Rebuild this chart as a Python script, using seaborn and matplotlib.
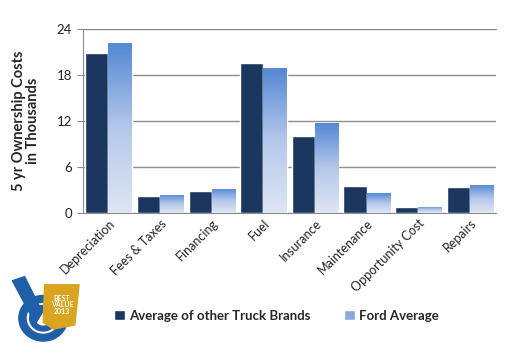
import numpy as np
import pandas as pd
import matplotlib
matplotlib.use("Agg")
import matplotlib.pyplot as plt
from matplotlib.patches import Patch, Polygon, Wedge
from matplotlib.colors import LinearSegmentedColormap
import seaborn as sns

categories = ["Depreciation", "Fees & Taxes", "Financing", "Fuel", "Insurance",
              "Maintenance", "Opportunity Cost", "Repairs"]
other_brands = [20.9, 2.2, 2.9, 19.6, 10.0, 3.5, 0.8, 3.4]
ford = [22.2, 2.4, 3.2, 18.9, 11.7, 2.6, 0.8, 3.7]
series_names = ["Average of other Truck Brands", "Ford Average"]

df = pd.DataFrame({
    "category": categories * 2,
    "value": other_brands + ford,
    "series": [series_names[0]] * len(categories) + [series_names[1]] * len(categories),
})

sns.set_style("white")
plt.rcParams["font.family"] = ["Lato", "DejaVu Sans"]

dark = "#1b365f"
grad = LinearSegmentedColormap.from_list("ford", ["#dfe6f4", "#b5c8ea", "#5488d4"])

fig = plt.figure(figsize=(5.12, 3.53), dpi=100)
ax = fig.add_axes([0.1615, 0.3966, 0.8065, 0.5204])

sns.barplot(data=df, x="category", y="value", hue="series", order=categories,
            hue_order=series_names, palette=[dark, "#8aa9de"], width=0.9,
            saturation=1, ax=ax, legend=False, zorder=3)

# gradient fill for the Ford bars
gimg = np.linspace(0, 1, 256).reshape(-1, 1)
for bar in ax.containers[1]:
    x, w, h = bar.get_x(), bar.get_width(), bar.get_height()
    bar.set_facecolor("none")
    im = ax.imshow(gimg, cmap=grad, origin="lower", aspect="auto",
                   extent=(x, x + w, 0, h), zorder=3)
    im.set_clip_path(bar)

ax.set_xlim(-0.5, len(categories) - 0.5)
ax.set_ylim(0, 24)
ax.set_yticks([0, 6, 12, 18, 24])
ax.yaxis.grid(True, color="#8c8c8c", linewidth=1, zorder=0)
ax.set_axisbelow(True)

for s in ["left", "bottom", "top"]:
    ax.spines[s].set_color("#8c8c8c")
ax.spines["right"].set_visible(False)

ax.set_xticks(np.arange(-0.5, len(categories), 1), minor=True)
ax.tick_params(axis="x", which="major", length=0, pad=3, labelsize=9, colors="#222222")
ax.tick_params(axis="x", which="minor", length=4, color="#8c8c8c", direction="out")
ax.tick_params(axis="y", length=4, color="#8c8c8c", labelsize=9.5, colors="#222222", left=True)
plt.setp(ax.get_xticklabels(), rotation=45, ha="right", rotation_mode="anchor")

ax.set_xlabel("")
ax.set_ylabel("5 yr Ownership Costs\nin Thousands", fontsize=10.5, fontweight="bold",
              labelpad=12, linespacing=1.0)

handles = [Patch(facecolor=dark), Patch(facecolor="#8aa9de")]
fig.legend(handles, series_names, loc="center", bbox_to_anchor=(0.54, 0.105), ncol=2,
           frameon=False, handlelength=0.8, handleheight=0.8, handletextpad=0.3,
           columnspacing=2.6, prop={"weight": "bold", "size": 9.5})

# rough badge
lax = fig.add_axes([0.02, 0.03, 0.14, 0.19])
lax.set_xlim(0, 10)
lax.set_ylim(0, 10)
lax.axis("off")
blue = "#1f5fa8"
lax.add_patch(Polygon([[0.3, 9.2], [2.0, 9.8], [4.5, 4.5], [3.5, 2.8]], color=blue))
lax.add_patch(Wedge((4.6, 3.6), 3.4, 0, 360, width=1.0, color=blue))
lax.add_patch(Wedge((4.6, 3.6), 1.9, 0, 360, width=0.7, color=blue))
lax.add_patch(Polygon([[4.8, 8.6], [9.6, 8.6], [9.0, 2.6], [6.0, 2.0], [4.6, 3.0]],
                      color="#d9a520"))
lax.text(7.2, 5.6, "BEST\nVALUE\n2013", ha="center", va="center", color="white",
         fontsize=5, fontweight="bold", linespacing=0.9)

fig.savefig("out.png", dpi=100)
